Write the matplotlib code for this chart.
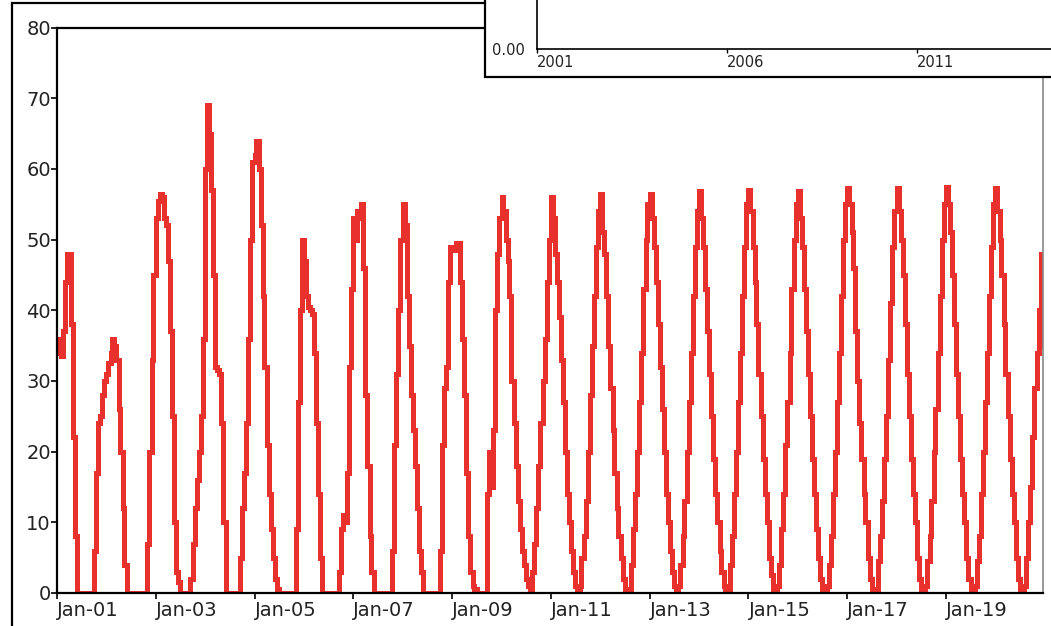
# grafico de serie escalonada semi-mensual 2001-2020, con recuadro superpuesto
import matplotlib
matplotlib.use('Agg')
import matplotlib.pyplot as plt
import matplotlib.dates as mdates
from matplotlib.patches import Rectangle
import pandas as pd

# valores, 24 por anio (dias 1 y 15 de cada mes)
v2001 = [36, 34, 33.5, 37, 44, 48, 48, 38, 22, 8, 0, 0, 0, 0, 0, 0, 0, 0, 6, 17, 24, 25, 28, 30]
v2002 = [31, 32.5, 34, 36, 35, 33, 26, 20, 12, 4, 0, 0, 0, 0, 0, 0, 0, 0, 0, 0, 7, 20, 33, 45]
v2003 = [53, 55.5, 56.5, 56, 53, 52, 47, 37, 25, 10, 3, 1.5, 0, 0, 0, 0, 0, 2, 7, 12, 16, 20, 25, 36]
v2004 = [60, 69, 65, 57, 45, 32, 31.5, 31, 24, 10, 0, 0, 0, 0, 0, 0, 0, 5, 12, 17, 24, 36, 50, 61]
v2005 = [62, 64, 60, 52, 42, 32, 21, 14, 9, 5, 2, 0.5, 0, 0, 0, 0, 0, 0, 0, 0, 9, 27, 40, 50]
v2006 = [47, 42, 40.5, 40, 39.5, 34, 24, 14, 5, 0, 0, 0, 0, 0, 0, 0, 0, 3, 9, 11, 10, 17, 32, 43]
v2007 = [53, 50, 54, 53, 55, 46, 28, 18, 8, 3, 0, 0, 0, 0, 0, 0, 0, 0, 0, 6, 21, 31, 40, 50]
v2008 = [55, 52, 42, 35, 28, 23, 18, 12, 6, 3, 0, 0, 0, 0, 0, 0, 0, 0, 6, 21, 29, 32, 44, 49]
v2009 = [49, 48.5, 49.5, 49.5, 44, 36, 28, 17, 8, 3, 1, 0.5, 0, 0, 0, 0, 0, 14, 20, 15, 23, 40, 48, 53]
v2010 = [56, 54, 50, 47, 42, 30, 24, 18, 13, 9, 6, 4, 2, 1, 0, 3, 7, 12, 18, 24, 30, 36, 44, 50]
v2011 = [56, 53, 48, 44, 39, 33, 27, 20, 14, 10, 6, 3, 1, 0, 1, 5, 8, 13, 20, 28, 35, 42, 49, 54]
v2012 = [56.5, 51, 48, 42, 35, 29, 23, 17, 12, 8, 5, 2, 0.5, 0, 0, 4, 9, 14, 20, 27, 34, 43, 50, 55]
v2013 = [56.5, 53, 49, 44, 38, 32, 26, 20, 14, 10, 6, 3, 1, 0, 1, 4, 8, 13, 20, 27, 34, 42, 49, 54]
v2014 = [56.8, 53, 49, 43, 37, 31, 25, 19, 14, 10, 6, 3, 1, 0, 0.5, 4, 8, 14, 20, 27, 34, 42, 49, 55]
v2015 = [57, 54, 49, 44, 38, 31, 25, 19, 14, 10, 5, 2.5, 0.5, 0, 1, 4, 9, 14, 21, 27, 34, 43, 50, 55]
v2016 = [56.8, 53, 49, 43, 37, 31, 25, 19, 14, 9, 5, 2, 0.5, 0, 1, 4, 8, 14, 20, 27, 34, 42, 50, 55]
v2017 = [57.3, 55, 51, 46, 37, 30, 24, 19, 14, 10, 5, 2, 0.5, 0, 0.5, 4.5, 8, 13, 19, 25, 33, 41, 49, 54]
v2018 = [57.3, 54, 50, 45, 38, 31, 25, 19, 14, 10, 5, 2, 0.5, 0, 1, 4.5, 8, 13, 20, 26, 34, 42, 50, 55]
v2019 = [57.5, 55, 51, 45, 38, 31, 25, 19, 14, 10, 5, 2, 0.5, 0, 1, 4.5, 8, 14, 20, 27, 34, 42, 49, 55]
v2020 = [57.3, 54, 50, 45, 38, 31, 25, 19, 14, 10, 5, 2, 0.5, 0, 1, 5, 10, 15, 22, 29, 34, 40, 48, 35]

valores = (v2001 + v2002 + v2003 + v2004 + v2005 + v2006 + v2007 + v2008 + v2009 + v2010
           + v2011 + v2012 + v2013 + v2014 + v2015 + v2016 + v2017 + v2018 + v2019 + v2020)

# fechas: inicio de cada medio mes, mas un borde final
fechas = pd.date_range('2001-01-01', periods=len(valores) + 1, freq='SMS')
y = valores + [valores[-1]]

# marcas del eje x: enero de los anios impares
marcas = pd.date_range('2001-01-01', '2019-01-01', freq='2YS')

# etiquetas del recuadro
anios_recuadro = [2001, 2006, 2011]

W, H = 1051, 626
fig = plt.figure(figsize=(W / 100, H / 100), dpi=100)
fig.patch.set_facecolor('white')

ax = fig.add_axes([57 / W, 1 - 593 / H, (1043 - 57) / W, (593 - 27.5) / H])
ax.step(fechas, y, where='post', color='#e8302d', lw=3.6, solid_joinstyle='miter')

ax.set_ylim(0, 80)
ax.set_yticks(range(0, 81, 10))
ax.set_xlim(pd.Timestamp('2001-01-01'), pd.Timestamp('2020-12-18'))
ax.set_xticks(marcas)
ax.xaxis.set_major_formatter(mdates.DateFormatter('%b-%y'))
ax.tick_params(axis='both', direction='out', length=4, width=1.2, labelsize=14,
               colors='black', labelcolor='#222222')
ax.tick_params(axis='x', pad=2)
ax.tick_params(axis='y', pad=0.5)
for lab in ax.get_xticklabels():
    lab.set_horizontalalignment('left')

for s in ['left', 'bottom', 'top']:
    ax.spines[s].set_color('black')
    ax.spines[s].set_linewidth(1.6)
ax.spines['right'].set_color('#888888')
ax.spines['right'].set_linewidth(1.2)

# marco exterior
marco = Rectangle((12 / W, -0.5), 1.5, 1.5 - 3 / H, transform=fig.transFigure,
                  fc='none', ec='black', lw=1.6, zorder=1)
fig.add_artist(marco)

# recuadro superior derecho (grafico superpuesto, recortado)
caja = Rectangle((485 / W, 1 - 77 / H), 0.6, 0.2, transform=fig.transFigure,
                 fc='white', ec='black', lw=1.6, zorder=2)
fig.add_artist(caja)

ax2 = fig.add_axes([537 / W, 1 - 49 / H, 0.6, 0.2], zorder=3)
ax2.set_facecolor('none')
ax2.set_xlim(2001, 2001 + 0.6 * W / 38)
ax2.set_ylim(0, 1)
ax2.set_xticks(anios_recuadro)
ax2.set_xticklabels([str(a) for a in anios_recuadro])
ax2.set_yticks([0])
ax2.set_yticklabels(['0.00'])
ax2.tick_params(axis='x', length=3, width=1, labelsize=10.5, pad=1, labelcolor='#222222')
ax2.tick_params(axis='y', length=0, labelsize=10.5, pad=9, labelcolor='#222222')
for lab in ax2.get_xticklabels():
    lab.set_horizontalalignment('left')
for s in ['top', 'right']:
    ax2.spines[s].set_visible(False)
for s in ['left', 'bottom']:
    ax2.spines[s].set_linewidth(1.2)

fig.savefig('out.png', dpi=100)
